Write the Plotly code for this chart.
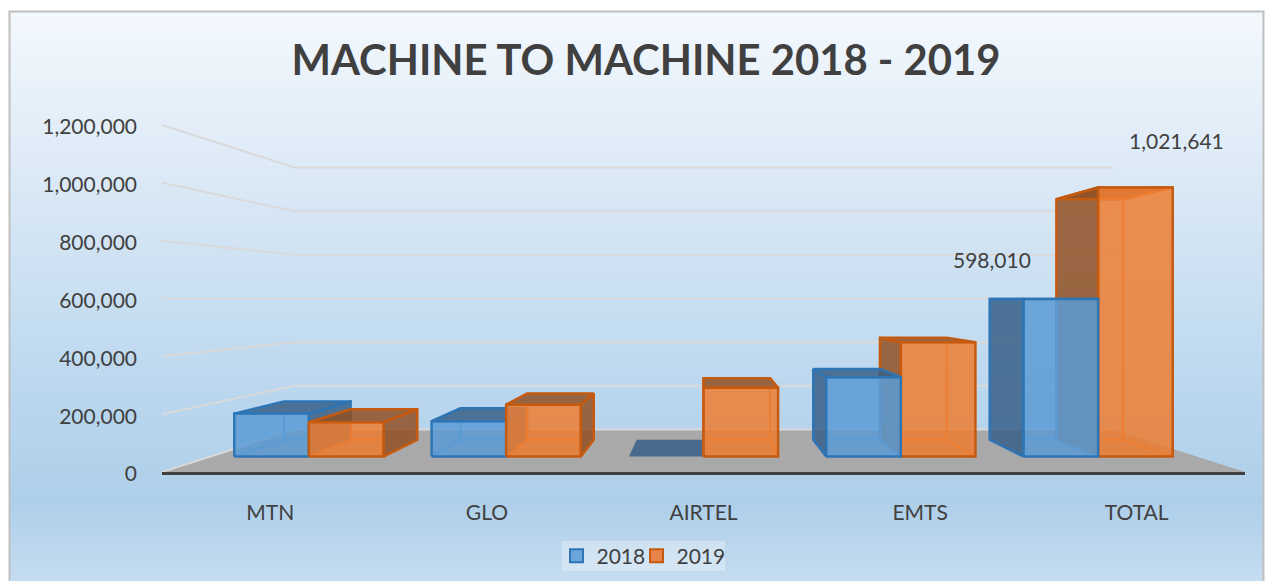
import plotly.graph_objects as go

categories = ["MTN", "GLO", "AIRTEL", "EMTS", "TOTAL"]
values_2018 = [163000, 134000, 0, 301010, 598010]
values_2019 = [130000, 197000, 261000, 433641, 1021641]
tick_values = [0, 200000, 400000, 600000, 800000, 1000000, 1200000]
title_text = "MACHINE TO MACHINE 2018 - 2019"

W, H = 1266, 581
VP_U, VP_V = 2.5, 600000
S_FRONT, S_BACK, S_WALL = 0.911, 0.8146, 0.755
BAR_W = 0.378
FONT = "Lato"
TXT = "#404040"
BLUE = dict(front="rgba(91,155,213,0.85)", dark="rgba(55,95,135,0.85)", line="#2e75b6", inner="#5b9bd5")
ORANGE = dict(front="rgba(237,125,49,0.85)", dark="rgba(145,80,35,0.85)", line="#c55a11", inner="#ed7d31")


def proj(u, v, s):
    return VP_U + (u - VP_U) * s, VP_V + (v - VP_V) * s


def poly(points, fill=None, line=None, width=2.5):
    xs = [p[0] for p in points]
    ys = [p[1] for p in points]
    return go.Scatter(
        x=xs, y=ys, mode="lines", showlegend=False, hoverinfo="skip",
        fill="toself" if fill else None, fillcolor=fill,
        line=dict(color=line or "rgba(0,0,0,0)", width=width if line else 0, shape="linear"),
    )


fig = go.Figure()

# floor
fig.add_trace(poly([proj(0, 0, 1), proj(5, 0, 1), proj(5, 0, S_WALL), proj(0, 0, S_WALL), proj(0, 0, 1)], fill="#a9a9a9"))

# gridlines on side and back walls
for t in tick_values:
    fig.add_trace(poly([proj(0, t, 1), proj(0, t, S_WALL), proj(5, t, S_WALL)], line="#d9d9d9", width=2))


def inner_edges(fb, bk, v):
    """Edges of the box that are seen through its front face."""
    x_lo, x_hi = fb[0][0], fb[1][0]
    y_top = min(fb[2][1], bk[2][1])
    pts = []
    bx_lo, bx_hi = max(bk[0][0], x_lo), min(bk[1][0], x_hi)
    pts += [(bx_lo, bk[0][1]), (bx_hi, bk[0][1]), None]
    if bk[0][0] >= x_lo:
        pts += [(bk[0][0], bk[0][1]), (bk[0][0], y_top), None, fb[0], bk[0], None]
    if bk[1][0] <= x_hi:
        pts += [(bk[1][0], bk[1][1]), (bk[1][0], y_top), None, fb[1], bk[1], None]
    if v > VP_V:
        pts += [(bx_lo, bk[2][1]), (bx_hi, bk[2][1]), None]
        if bk[1][0] <= x_hi:
            pts += [bk[2], fb[2], None]
        if bk[0][0] >= x_lo:
            pts += [bk[3], fb[3], None]
    return pts


def draw_bar(a, b, v, c):
    fb = [proj(a, 0, S_FRONT), proj(b, 0, S_FRONT), proj(b, v, S_FRONT), proj(a, v, S_FRONT)]
    bk = [proj(a, 0, S_BACK), proj(b, 0, S_BACK), proj(b, v, S_BACK), proj(a, v, S_BACK)]
    i, j = (1, 2) if b <= VP_U else (0, 3)
    if v > 0:
        side = [fb[i], bk[i], bk[j], fb[j], fb[i]]
        fig.add_trace(poly(side, fill=c["dark"], line=c["line"]))
    top = [fb[3], fb[2], bk[2], bk[3], fb[3]]
    fig.add_trace(poly(top, fill=c["dark"], line=c["line"] if v > 0 else None))
    if v > 0:
        fig.add_trace(poly(fb + [fb[0]], fill=c["front"]))
        inner = inner_edges(fb, bk, v)
        fig.add_trace(go.Scatter(
            x=[p[0] if p else None for p in inner], y=[p[1] if p else None for p in inner],
            mode="lines", showlegend=False, hoverinfo="skip", line=dict(color=c["inner"], width=2),
        ))
        fig.add_trace(poly(fb + [fb[0]], line=c["line"]))


for n in range(len(categories)):
    left = (n + 0.122, values_2018[n], BLUE)
    right = (n + 0.5, values_2019[n], ORANGE)
    order = [left, right] if n + 0.5 <= VP_U + 0.01 else [right, left]
    for start, val, col in order:
        draw_bar(start, start + BAR_W, val, col)

# legend swatches
fig.add_trace(go.Scatter(x=[None], y=[None], mode="markers", name="2018", legendwidth=35,
                         marker=dict(symbol="square", size=13, color="#6aa5dc", line=dict(color=BLUE["line"], width=2))))
fig.add_trace(go.Scatter(x=[None], y=[None], mode="markers", name="2019", legendwidth=60,
                         marker=dict(symbol="square", size=13, color="#e8834a", line=dict(color=ORANGE["line"], width=2))))

# background gradient: each strip runs to the bottom so that no seams show
STOPS = [(11, (243, 248, 253)), (200, (216, 231, 245)), (400, (185, 214, 238)), (500, (174, 207, 234)), (581, (198, 220, 240))]
shapes = []
for py in range(11, H, 3):
    for (p0, c0), (p1, c1) in zip(STOPS, STOPS[1:]):
        if p0 <= py <= p1:
            t = (py - p0) / (p1 - p0)
            col = tuple(round(c0[m] + (c1[m] - c0[m]) * t) for m in range(3))
            break
    shapes.append(dict(type="rect", xref="paper", yref="paper", x0=9 / W, x1=1263 / W, y0=0, y1=1 - py / H,
                       fillcolor="rgb(%d,%d,%d)" % col, line=dict(width=0), layer="below"))
# frame
shapes.append(dict(type="path", xref="paper", yref="paper", layer="below",
                   path="M %f,0 L %f,%f L %f,%f L %f,0" % (9.5 / W, 9.5 / W, 1 - 11.5 / H, 1263.5 / W, 1 - 11.5 / H, 1263.5 / W),
                   line=dict(color="#bfbfbf", width=2)))
# legend backdrop
shapes.append(dict(type="rect", xref="paper", yref="paper", layer="below", x0=562 / W, x1=725 / W,
                   y0=1 - 571 / H, y1=1 - 541 / H, fillcolor="rgba(255,255,255,0.3)", line=dict(width=0)))

annotations = [
    dict(x=4.311, y=values_2018[4], xref="x", yref="y", text="{:,}".format(values_2018[4]), showarrow=False,
         xshift=-104, yshift=40, font=dict(family=FONT, size=21, color=TXT)),
    dict(x=4.689, y=values_2019[4], xref="x", yref="y", text="{:,}".format(values_2019[4]), showarrow=False,
         xshift=-1, yshift=36, font=dict(family=FONT, size=21, color=TXT)),
]

fig.update_layout(
    width=W, height=H, margin=dict(l=0, r=0, t=0, b=0, autoexpand=False), paper_bgcolor="white", plot_bgcolor="rgba(0,0,0,0)",
    shapes=shapes, annotations=annotations,
    title=dict(text="<b>%s</b>" % title_text, x=646 / W, xanchor="center", y=1 - 60 / H, yanchor="middle",
               font=dict(family=FONT, size=41.8, color=TXT)),
    xaxis=dict(domain=[162 / W, 1245 / W], range=[0, 5], tickmode="array", tickvals=[n + 0.5 for n in range(5)],
               ticktext=categories, showgrid=False, zeroline=False, showline=True, linecolor="#404040", linewidth=3,
               ticks="", ticklabelstandoff=20, tickfont=dict(family=FONT, size=21, color=TXT)),
    yaxis=dict(domain=[1 - 472 / H, 1 - 125 / H], range=[0, 1200000], tickmode="array", tickvals=tick_values,
               tickformat=",d", showgrid=False, zeroline=False, showline=False, ticks="", ticklabelstandoff=24,
               ticklabelshift=2, tickfont=dict(family=FONT, size=21, color=TXT)),
    legend=dict(orientation="h", x=556.5 / W, xanchor="left", y=1 - 556 / H, yanchor="middle",
                bgcolor="rgba(0,0,0,0)", font=dict(family=FONT, size=21, color=TXT)),
)

fig.write_html("out.html", config={"displayModeBar": False}, post_script="document.body.style.margin='0';")
